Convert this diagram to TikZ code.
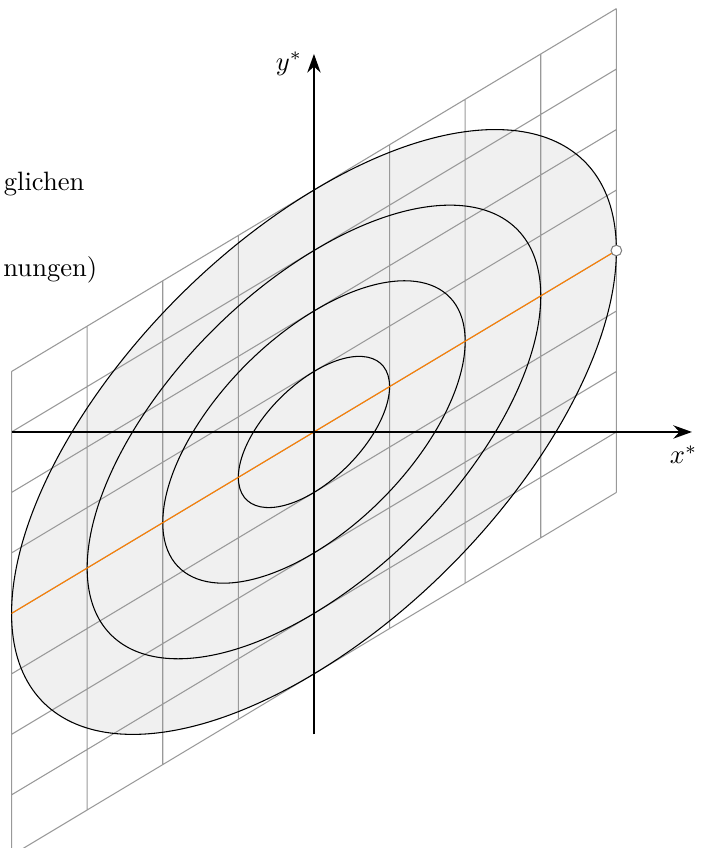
\documentclass[tikz,border=0pt]{standalone}
\usetikzlibrary{arrows.meta}
\tikzset{
  gridline/.style={draw=black!40, line width=0.4pt},
  contour/.style={draw=black, line width=0.4pt},
  axisline/.style={draw=black, line width=0.8pt, -{Stealth[length=7pt,width=5pt]}},
  marker/.style={circle, draw=black!50, fill=white, line width=0.4pt, minimum size=4pt, inner sep=0pt},
  label/.style={font=\normalsize, inner sep=0pt}
}
\begin{document}
\begin{tikzpicture}
\clip (-4.153,-5.503) rectangle (5.304,5.714);
\begin{scope}[cm={1,0.6,0,0.8,(0,0)}]
  \fill[black!6] (0,0) circle (4);
  \draw[gridline] (-4,-4) grid (4,4);
  \foreach \r in {1,2,3,4} \draw[contour] (0,0) circle (\r);
  \coordinate (ol) at (-4,0);
  \coordinate (or) at (4,0);
  \draw[orange, line width=0.4pt] (ol) -- (or);
  \node[marker] (m) at (4,0) {};
\end{scope}
\coordinate (xs) at (-4,0);
\coordinate (xe) at (5,0);
\coordinate (ys) at (0,-4);
\coordinate (ye) at (0,5);
\draw[axisline] (xs) -- (xe);
\draw[axisline] (ys) -- (ye);
\node[label] (xl) at (4.89,-0.30) {$x^*$};
\node[label] (yl) at (-0.33,4.87) {$y^*$};
\node[label, anchor=base east] (t1) at (-3.03,3.19) {glichen};
\node[label, anchor=base east] (t2) at (-2.86,2.05) {nungen)};
\end{tikzpicture}
\end{document}
